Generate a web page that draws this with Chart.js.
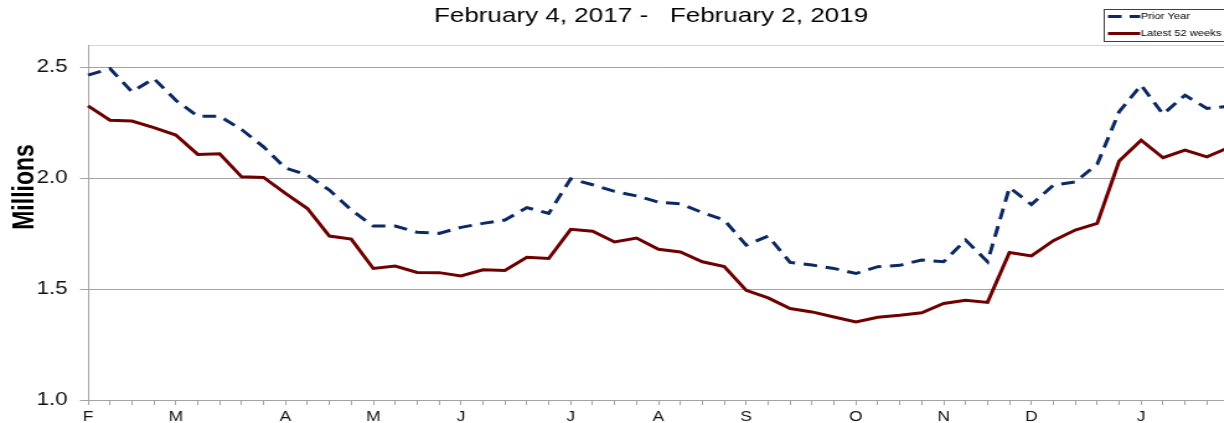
<!DOCTYPE html>
<html>
<head>
<meta charset="utf-8">
<title>Weekly volume, millions</title>
<script src="https://cdn.jsdelivr.net/npm/chart.js@4/dist/chart.umd.min.js"></script>
<style>
  html, body { margin: 0; padding: 0; background: #fff; overflow: hidden; }
</style>
</head>
<body>
<!-- drawn at 1000px wide, shown 1.24x wider like the reference -->
<canvas id="chart" width="1000" height="423" style="display:block;width:1240px;height:423px"></canvas>
<script>
// Month letters and the week index where each one sits on the x axis
const monthLetters = ['F', 'M', 'A', 'M', 'J', 'J', 'A', 'S', 'O', 'N', 'D', 'J'];
const monthWeeks = [0, 4, 9, 13, 17, 22, 26, 30, 35, 39, 43, 48];
const weekCount = 53;

// Values in millions
const priorYear = [
    2.464, 2.494, 2.389, 2.449, 2.351, 2.279, 2.279, 2.219, 2.141, 2.045,
    2.014, 1.946, 1.856, 1.784, 1.784, 1.756, 1.751, 1.778, 1.796, 1.811,
    1.867, 1.841, 1.997, 1.970, 1.940, 1.920, 1.892, 1.884, 1.845, 1.811,
    1.698, 1.739, 1.620, 1.608, 1.593, 1.570, 1.601, 1.607, 1.631, 1.623,
    1.721, 1.623, 1.958, 1.881, 1.968, 1.983, 2.063, 2.299, 2.419, 2.288,
    2.374, 2.314, 2.324
];
const latest52 = [
    2.326, 2.261, 2.257, 2.228, 2.194, 2.107, 2.110, 2.006, 2.003, 1.931,
    1.863, 1.739, 1.725, 1.593, 1.604, 1.575, 1.574, 1.559, 1.587, 1.584,
    1.643, 1.638, 1.769, 1.761, 1.712, 1.730, 1.679, 1.667, 1.623, 1.601,
    1.494, 1.460, 1.412, 1.397, 1.374, 1.352, 1.373, 1.382, 1.393, 1.435,
    1.450, 1.440, 1.665, 1.649, 1.718, 1.766, 1.796, 2.077, 2.171, 2.092,
    2.126, 2.096, 2.138
];
const yTicks = [1.0, 1.5, 2.0, 2.5];

const titleText = 'February 4, 2017 -   February 2, 2019';
const FONT = '"Liberation Sans", Arial, sans-serif';
const NAVY = '#0b2a63';
const MAROON = '#6e0000';
const GRID = '#a3a3a3';

// one label per week, letter only at month starts
const weekLabels = [];
for (let i = 0; i < weekCount; i++) {
    const k = monthWeeks.indexOf(i);
    weekLabels.push(k >= 0 ? monthLetters[k] : '');
}

// title, legend box and the y axis caption
const extras = {
    id: 'extras',
    afterDraw(chart) {
        const ctx = chart.ctx;
        ctx.save();
        ctx.fillStyle = '#000';
        ctx.font = '21px ' + FONT;
        ctx.textAlign = 'center';
        ctx.textBaseline = 'alphabetic';
        ctx.fillText(titleText, 525, 22);

        // legend
        ctx.fillStyle = '#fff';
        ctx.fillRect(890.5, 9.5, 120, 32);
        ctx.strokeStyle = '#404040';
        ctx.lineWidth = 1;
        ctx.strokeRect(890.5, 9.5, 120, 32);

        ctx.lineWidth = 3;
        ctx.strokeStyle = NAVY;
        ctx.setLineDash([11, 6.5]);
        ctx.beginPath();
        ctx.moveTo(893.5, 16.5);
        ctx.lineTo(919.5, 16.5);
        ctx.stroke();
        ctx.setLineDash([]);
        ctx.strokeStyle = MAROON;
        ctx.beginPath();
        ctx.moveTo(893.5, 33.5);
        ctx.lineTo(919.5, 33.5);
        ctx.stroke();

        ctx.fillStyle = '#000';
        ctx.font = '9px ' + FONT;
        ctx.textAlign = 'left';
        ctx.textBaseline = 'middle';
        ctx.fillText('Prior Year', 920, 16.5);
        ctx.fillText('Latest 52 weeks', 920, 33.5);

        // rotated axis caption
        ctx.translate(33 / 1.24, 187);
        ctx.rotate(-Math.PI / 2);
        ctx.font = 'bold 23px ' + FONT;
        ctx.textAlign = 'center';
        ctx.textBaseline = 'alphabetic';
        ctx.fillText('Millions', 0, 0);
        ctx.restore();
    }
};

new Chart(document.getElementById('chart').getContext('2d'), {
    type: 'line',
    data: {
        labels: weekLabels,
        datasets: [{
            label: 'Prior Year',
            data: priorYear,
            borderColor: NAVY,
            borderWidth: 3,
            borderDash: [11, 7],
            pointRadius: 0,
            tension: 0,
            fill: false
        }, {
            label: 'Latest 52 weeks',
            data: latest52,
            borderColor: MAROON,
            borderWidth: 3,
            pointRadius: 0,
            tension: 0,
            fill: false
        }]
    },
    options: {
        responsive: false,
        devicePixelRatio: 1,
        animation: false,
        layout: { padding: { top: 45, right: 9, bottom: 0, left: 0 } },
        plugins: {
            legend: { display: false },
            title: { display: false },
            tooltip: { enabled: false }
        },
        scales: {
            x: {
                offset: false,
                afterFit: scale => { scale.height = 23; },
                grid: {
                    drawOnChartArea: false,
                    drawTicks: true,
                    tickLength: 5,
                    color: GRID,
                    offset: false
                },
                border: { display: true, color: GRID },
                ticks: {
                    autoSkip: false,
                    maxRotation: 0,
                    minRotation: 0,
                    padding: 4,
                    color: '#111',
                    font: { family: FONT, size: 14 }
                }
            },
            y: {
                min: 1.0,
                max: 2.6,
                afterFit: scale => { scale.width = 71; },
                afterBuildTicks: scale => {
                    scale.ticks = yTicks.map(v => ({ value: v })).concat([{ value: 2.6 }]);
                },
                grid: {
                    color: c => (c.tick && c.tick.value > 2.55 ? '#d6d6d6' : GRID),
                    tickColor: c => (c.tick && c.tick.value > 2.55 ? 'rgba(0,0,0,0)' : GRID),
                    tickLength: 6.5
                },
                border: { display: true, color: GRID },
                ticks: {
                    padding: 10,
                    color: '#111',
                    font: { family: FONT, size: 18 },
                    callback: v => (v > 2.55 ? '' : v.toFixed(1))
                }
            }
        }
    },
    plugins: [extras]
});
</script>
</body>
</html>
